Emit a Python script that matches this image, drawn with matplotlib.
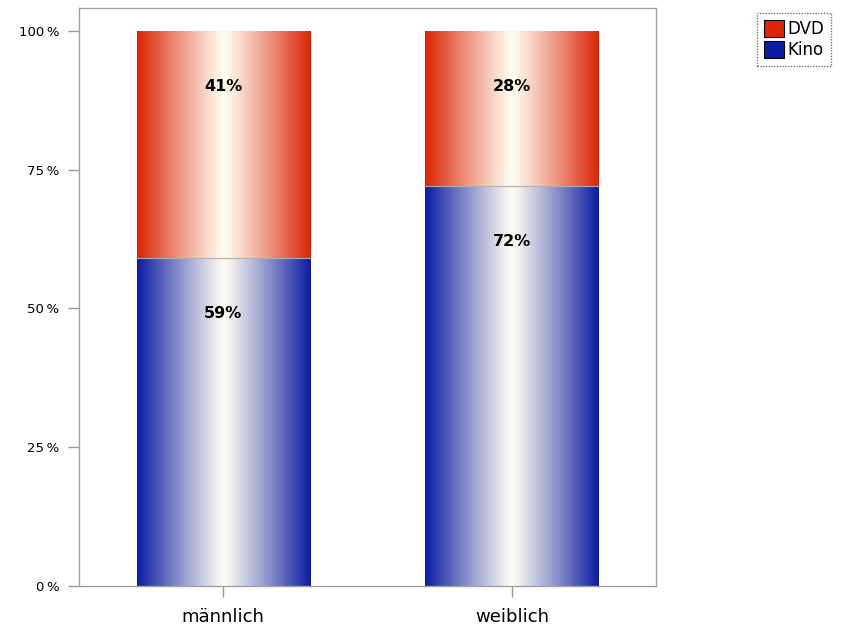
import numpy as np
import matplotlib
matplotlib.use("Agg")
import matplotlib.pyplot as plt
from matplotlib.patches import Patch

categories = ["männlich", "weiblich"]
kino = [59, 72]
dvd = [41, 28]
series_names = ["DVD", "Kino"]
yticks = [0, 25, 50, 75, 100]
ytick_labels = ["0\u2009%", "25\u2009%", "50\u2009%", "75\u2009%", "100\u2009%"]

red_edge = np.array([220, 36, 6]) / 255
blue_edge = np.array([12, 28, 162]) / 255
center = np.array([255, 253, 242]) / 255


def gradient(edge, n=200):
    t = np.linspace(0, 1, n)
    f = np.abs(t - 0.5) * 2
    f = f ** 1.1
    cols = center[None, :] + (edge[None, :] - center[None, :]) * f[:, None]
    return cols[None, :, :]


fig = plt.figure(figsize=(8.52, 6.31), dpi=100)
ax = fig.add_axes([79 / 852, 1 - 586 / 631, (656 - 79) / 852, (586 - 8) / 631])

x = np.arange(len(categories))
width = 0.6
bars_k = ax.bar(x, kino, width, color="none", edgecolor="none")
bars_d = ax.bar(x, dvd, width, bottom=kino, color="none", edgecolor="none")

for bars, edge in ((bars_k, blue_edge), (bars_d, red_edge)):
    for b in bars:
        x0, y0 = b.get_x(), b.get_y()
        w, h = b.get_width(), b.get_height()
        im = ax.imshow(gradient(edge), extent=(x0, x0 + w, y0, y0 + h),
                       aspect="auto", interpolation="bilinear", zorder=2)
        im.set_clip_path(b)

for i in range(len(categories)):
    ax.plot([x[i] - width / 2, x[i] + width / 2], [kino[i], kino[i]],
            color="#b0b0b0", lw=0.8, zorder=3)
    ax.text(x[i], kino[i] - 10, f"{kino[i]}%", ha="center", va="center",
            fontsize=11.5, fontweight="bold", zorder=4)
    ax.text(x[i], 100 - 10, f"{dvd[i]}%", ha="center", va="center",
            fontsize=11.5, fontweight="bold", zorder=4)

ax.set_xlim(-0.5, 1.5)
ax.set_ylim(0, 104.1)
ax.set_yticks(yticks)
ax.set_yticklabels(ytick_labels, fontsize=9.5)
ax.set_xticks(x)
ax.set_xticklabels(categories, fontsize=13)
ax.tick_params(axis="y", length=8, width=1, color="#999999", pad=6)
ax.tick_params(axis="x", length=8, width=1, color="#999999", pad=8)
for s in ax.spines.values():
    s.set_color("#a0a0a0")
    s.set_linestyle((0, (1, 1)))
    s.set_linewidth(1)

handles = [Patch(facecolor=red_edge, edgecolor="black", lw=0.8),
           Patch(facecolor=blue_edge, edgecolor="black", lw=0.8)]
leg = fig.legend(handles, series_names, loc="upper left",
                 bbox_to_anchor=(757 / 852, 1 - 13 / 631), fontsize=12,
                 frameon=True, fancybox=False, handlelength=1.2,
                 handleheight=1.2, handletextpad=0.25, borderpad=0.4,
                 labelspacing=0.2, borderaxespad=0)
leg.get_frame().set_edgecolor("#555555")
leg.get_frame().set_linestyle((0, (1, 1)))

fig.savefig("out.png", dpi=100)
